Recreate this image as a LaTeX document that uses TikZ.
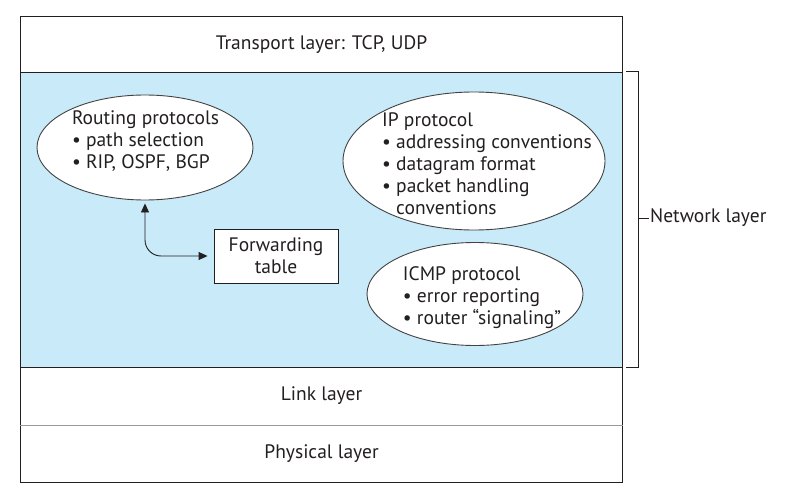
\documentclass[tikz,border=0pt]{standalone}
\usepackage{fontspec}
\setmainfont{PT Sans}
\usepackage{tikz}
\usetikzlibrary{arrows.meta,positioning,shapes.geometric}
\definecolor{netblue}{RGB}{200,234,249}
\definecolor{ink}{RGB}{35,31,32}

\begin{document}
\begin{tikzpicture}[
    x=1pt, y=-1pt,
    font=\fontsize{19.5}{22}\selectfont,
    text=ink,
    layer/.style={draw=ink, line width=0.9pt, minimum width=602, inner sep=0pt},
    proto/.style={draw=ink!85, ellipse, fill=white, line width=0.9pt, inner sep=0pt},
    bullets/.style={align=left, inner sep=0pt},
    fwdbox/.style={draw=ink, fill=white, align=center, line width=0.9pt, minimum width=124, minimum height=54},
    bracket/.style={draw=ink, line width=0.9pt},
    arrow/.style={{Triangle[length=9pt,width=8pt]}-{Triangle[length=9pt,width=8pt]}, line width=0.9pt, draw=ink}
]
\path[use as bounding box, fill=white] (0,0) rectangle (803,492);

% the four layers
\node[layer, minimum height=55.5] (transport) at (321.5,44.25) {Transport layer: TCP, UDP};
\node[layer, minimum height=295, fill=netblue] (network) at (321.5,219.5) {};
\node[layer, minimum height=58] (link) at (321.5,396) {Link layer};
\node[layer, minimum height=57] (physical) at (321.5,453.5) {Physical layer};
\draw[gray!80, line width=1.4pt] (link.south west) -- (link.south east);

% network layer contents
\node[proto, minimum width=216, minimum height=105] (routing) at (145,147.5) {};
\node[bullets] (routingtext) at (145.5,141.5) {Routing protocols\\\textbullet\ path selection\\\textbullet\ RIP, OSPF, BGP};
\node[proto, minimum width=262, minimum height=138] (ip) at (474,161) {};
\node[bullets] (iptext) at (487,163.5) {IP protocol\\\textbullet\ addressing conventions\\\textbullet\ datagram format\\\textbullet\ packet handling\\\phantom{\textbullet\ }conventions};
\node[proto, minimum width=216, minimum height=103] (icmp) at (475,294) {};
\node[bullets] (icmptext) at (482,297.5) {ICMP protocol\\\textbullet\ error reporting\\\textbullet\ router ``signaling''};
\node[fwdbox] (fwd) at (276,256) {Forwarding\\table};

\draw[arrow, rounded corners=16pt, shorten <=3pt, shorten >=6pt] (routing.south) |- (fwd.west);

% bracket
\draw[bracket] ([xshift=3.5pt]network.north east) -- ++(12,0) |- ([xshift=3.5pt]network.south east);
\coordinate (tick) at (638,218);
\node[anchor=west, inner sep=1pt] (netlabel) at (649,218) {Network layer};
\draw[bracket] (tick) -- (netlabel.west);
\end{tikzpicture}
\end{document}
